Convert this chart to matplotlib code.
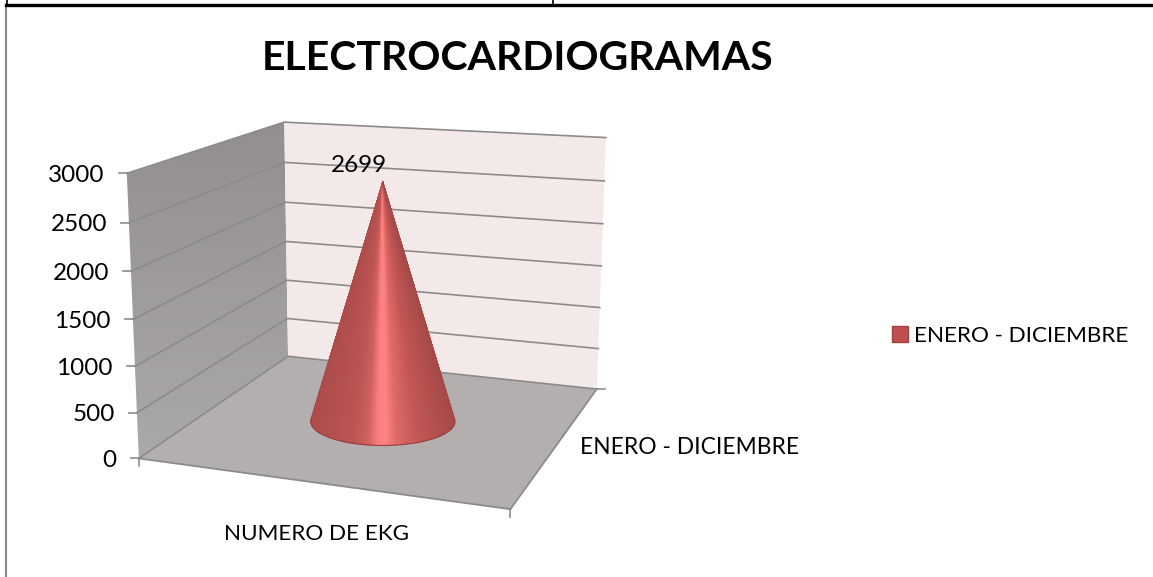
import numpy as np
import matplotlib
matplotlib.use('Agg')
import matplotlib.pyplot as plt
from matplotlib.collections import PolyCollection
from matplotlib.colors import LinearSegmentedColormap
from matplotlib.patches import Patch, Polygon

# data
title = 'ELECTROCARDIOGRAMAS'
categories = ['NUMERO DE EKG']
series_names = ['ENERO - DICIEMBRE']
values = [2699]
z_ticks = [0, 500, 1000, 1500, 2000, 2500, 3000]
z_max = 3000

plt.rcParams['font.family'] = ['Lato', 'DejaVu Sans']

W, H = 1153, 577
fig = plt.figure(figsize=(W / 100, H / 100), dpi=100)
ax = fig.add_axes([0, 0, 1, 1])
ax.axis('off')

# camera of the 3d box, fitted on the corners of the box in the picture
box_3d = [(0, 0, 0), (1, 0, 0), (1, 1, 0), (0, 1, 0), (0, 0, 1), (0, 1, 1), (1, 1, 1)]
box_px = [(139, 458), (510, 510), (597, 388), (288, 357), (127, 173), (284, 122), (606, 138)]
A = []
b = []
for (u, v, w), (px, py) in zip(box_3d, box_px):
    A.append([u, v, w, 1, 0, 0, 0, 0, -px * u, -px * v, -px * w])
    A.append([0, 0, 0, 0, u, v, w, 1, -py * u, -py * v, -py * w])
    b += [px, py]
cam = np.append(np.linalg.lstsq(np.array(A, float), np.array(b, float), rcond=None)[0], 1).reshape(3, 4)


def project(u, v, val=0):
    p = cam @ np.array([u, v, val / z_max, 1.0])
    return p[0] / p[2], p[1] / p[2]


grid_col = '#8c8a8a'
tick_col = '#8c8c8c'

# left wall with a soft gradient, back wall and floor
wall = Polygon([project(0, 0), project(0, 1), project(0, 1, z_max), project(0, 0, z_max)],
               fc='none', ec='none', transform=ax.transData)
ax.add_patch(wall)
wall_map = LinearSegmentedColormap.from_list('wall', ['#938f8f', '#aba8a8'])
img = ax.imshow(np.linspace(0, 1, 64).reshape(-1, 1), cmap=wall_map, aspect='auto',
                extent=(120, 295, 460, 120), zorder=1)
img.set_clip_path(wall)
ax.set_xlim(0, W)
ax.set_ylim(H, 0)
ax.add_patch(Polygon([project(0, 1), project(1, 1), project(1, 1, z_max), project(0, 1, z_max)],
                     fc='#f4e9e9', ec='none', zorder=1))
ax.add_patch(Polygon([project(0, 0), project(1, 0), project(1, 1), project(0, 1)],
                     fc='#b4afaf', ec='none', zorder=1))

# gridlines, ticks and labels of the value axis
for z in z_ticks:
    pts = [project(0, 0, z), project(0, 1, z), project(1, 1, z)]
    ax.plot(*zip(*pts), color=grid_col, lw=1.2, zorder=2)
    x0, y0 = pts[0]
    ax.plot([x0 - 8, x0], [y0, y0], color=tick_col, lw=1.2, zorder=2)
    ax.text(x0 - 22, y0 + 2, str(z), ha='right', va='center', fontsize=17.5, color='black')

# floor edges and ticks
for a, c in [((0, 0), (1, 0)), ((1, 0), (1, 1))]:
    ax.plot(*zip(project(*a), project(*c)), color=grid_col, lw=1.3, zorder=2)
for u in [0, 1]:
    x0, y0 = project(u, 0)
    ax.plot([x0, x0], [y0, y0 + 8], color=tick_col, lw=1.2, zorder=2)
x0, y0 = project(1, 1)
ax.plot([x0, x0 + 8], [y0, y0], color=tick_col, lw=1.2, zorder=2)

# cone
shade = LinearSegmentedColormap.from_list('cone', [
    (0.0, '#ac4d4c'), (0.3, '#bd5553'), (0.4, '#d0625f'), (0.47, '#fd8080'),
    (0.53, '#ff8282'), (0.6, '#e06a67'), (0.75, '#c45755'), (1.0, '#a64a49')])
base_a, base_b = 72, 24
cx, cy = project(0.5, 0.5, 0)
tip = project(0.5, 0.5, values[0])
t0 = np.arcsin(base_b / (cy - tip[1]))
t = np.linspace(np.pi + t0, -t0, 161)
ex = cx + base_a * np.cos(t)
ey = cy + base_b * np.sin(t)
tris = [[tip, (ex[i], ey[i]), (ex[i + 1], ey[i + 1])] for i in range(len(t) - 1)]
mid = (ex[:-1] + ex[1:]) / 2
cols = shade((mid - (cx - base_a)) / (2 * base_a))
ax.add_collection(PolyCollection(tris, facecolors=cols, edgecolors=cols, linewidths=0.6, zorder=3))
ax.plot(ex, ey, color='#9c3f3e', lw=0.8, zorder=4)

# labels
ax.text(tip[0] - 24, tip[1] - 17, str(values[0]), ha='center', va='center', fontsize=17.5, color='black', zorder=5)
ax.text(317, 534, categories[0], ha='center', va='center', fontsize=16.2, color='black')
ax.text(690, 447, series_names[0], ha='center', va='center', fontsize=16.4, color='black')
ax.text(518, 59, title, ha='center', va='center', fontsize=29.5, fontweight='bold', color='black')

ax.legend(handles=[Patch(fc='#c0504d', ec='#a04240', label=series_names[0])],
          loc='center left', bbox_to_anchor=(892, 336), bbox_transform=ax.transData,
          frameon=False, fontsize=16.2, handlelength=0.7, handleheight=0.7,
          handletextpad=0.3, borderpad=0, borderaxespad=0)

# frame of the chart and the table line above it
ax.plot([5.5, 5.5], [5, H], color='#8a8a8a', lw=1.5)
ax.plot([6, W], [4.5, 4.5], color='black', lw=2.4)
ax.plot([7, 7], [0, 4], color='black', lw=1.2)
ax.plot([553, 553], [0, 4], color='black', lw=1.2)

fig.savefig('out.png', dpi=100)
